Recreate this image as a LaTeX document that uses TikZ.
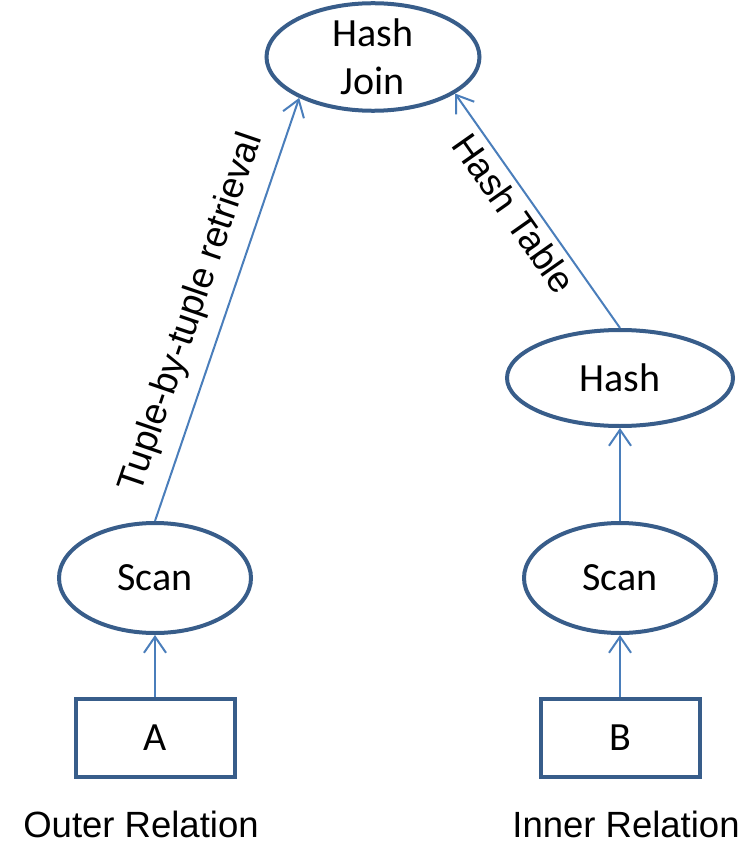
\documentclass[tikz,border=0pt]{standalone}
\usepackage{fontspec}
\setmainfont{Carlito}
\newfontfamily\arialfont{Liberation Sans}
\usetikzlibrary{shapes.geometric,arrows.meta}
\definecolor{shapeblue}{HTML}{385D8A}
\definecolor{linkblue}{HTML}{4A7EBB}
\begin{document}
\begin{tikzpicture}[x=1pt,y=-1pt,
  opnode/.style={ellipse,draw=shapeblue,line width=4pt,inner sep=0pt,
    font=\fontsize{40}{48}\selectfont,align=center},
  relbox/.style={rectangle,draw=shapeblue,line width=4pt,inner sep=0pt,
    minimum width=159pt,minimum height=78pt,font=\fontsize{40}{48}\selectfont},
  flow/.style={draw=linkblue,line width=2pt,
    -{Straight Barb[length=16pt,width=22pt,line width=2pt]}},
  flowlabel/.style={font=\arialfont\fontsize{37}{40}\selectfont,inner sep=0pt},
  caption/.style={font=\arialfont\fontsize{36.5}{40}\selectfont,inner sep=0pt,anchor=base}]
  \useasboundingbox (0,0) rectangle (751,842);

  % operator tree
  \node[opnode,minimum width=213pt,minimum height=94pt] (join) at (373,57) {Hash\\Join};
  \node[opnode,minimum width=226pt,minimum height=96pt] (hash) at (620,378) {Hash};
  \node[opnode,minimum width=192pt,minimum height=110pt] (scanA) at (155,578) {Scan};
  \node[opnode,minimum width=192pt,minimum height=110pt] (scanB) at (620,578) {Scan};

  % base relations
  \node[relbox] (relA) at (155,738) {A};
  \node[relbox] (relB) at (620,738) {B};
  \node[caption] (outer) at (141,837) {Outer Relation};
  \node[caption] (inner) at (626,837) {Inner Relation};

  % data flow
  \draw[flow] (relA.north) -- (scanA.south);
  \draw[flow] (relB.north) -- (scanB.south);
  \draw[flow] (scanB.north) -- (hash.south);
  \draw[flow] (scanA.north) -- (join.209)
    node[flowlabel,sloped,pos=0.467,above=14pt] (tuplelbl) {Tuple-by-tuple retrieval};
  \draw[flow] (hash.north) -- (join.336)
    node[flowlabel,sloped,pos=0.54,below=6pt] (tablelbl) {Hash Table};
\end{tikzpicture}
\end{document}
